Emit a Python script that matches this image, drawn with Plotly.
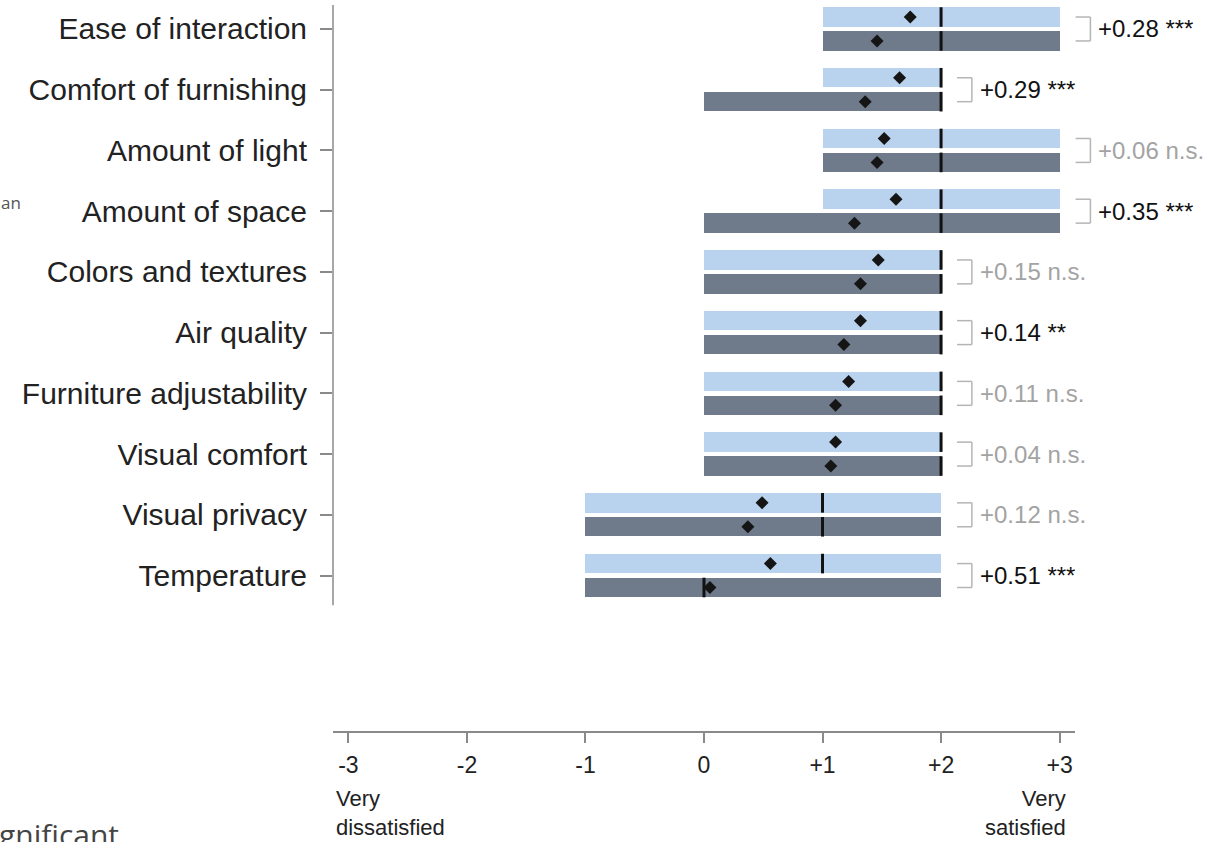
import plotly.graph_objects as go

# ---------------- data ----------------
categories = ["Ease of interaction", "Comfort of furnishing", "Amount of light",
              "Amount of space", "Colors and textures", "Air quality",
              "Furniture adjustability", "Visual comfort", "Visual privacy", "Temperature"]

light_lo = [1, 1, 1, 1, 0, 0, 0, 0, -1, -1]
light_hi = [3, 2, 3, 3, 2, 2, 2, 2, 2, 2]
dark_lo = [1, 0, 1, 0, 0, 0, 0, 0, -1, -1]
dark_hi = [3, 2, 3, 3, 2, 2, 2, 2, 2, 2]
light_median = [2, 2, 2, 2, 2, 2, 2, 2, 1, 1]
dark_median = [2, 2, 2, 2, 2, 2, 2, 2, 1, 0]
light_mean = [1.74, 1.65, 1.52, 1.62, 1.47, 1.32, 1.22, 1.11, 0.49, 0.56]
dark_mean = [1.46, 1.36, 1.46, 1.27, 1.32, 1.18, 1.11, 1.07, 0.37, 0.05]
diff_labels = ["+0.28", "+0.29", "+0.06", "+0.35", "+0.15", "+0.14", "+0.11", "+0.04", "+0.12", "+0.51"]
signif = ["***", "***", "n.s.", "***", "n.s.", "**", "n.s.", "n.s.", "n.s.", "***"]

x_ticks = [-3, -2, -1, 0, 1, 2, 3]
x_ticktext = ["-3", "-2", "-1", "0", "+1", "+2", "+3"]

# ---------------- style ----------------
FONT = "Liberation Sans, Arial, Helvetica, sans-serif"
LIGHT = "#b9d2ee"
DARK = "#6f7b8b"
GRAY_TXT = "#a3a3a3"
AXIS_GRAY = "#8a8a8a"
OFF = 0.197
BW = 0.32

W, H = 1217, 842
ML, MR, MT, MB = 333, 142, 5, 111
XR = [-3.13, 3.13]
YR = [11.56, -0.395]

rows = list(range(len(categories)))
y_light = [r - OFF for r in rows]
y_dark = [r + OFF for r in rows]


def data_to_paper_x(v):
    return (v - XR[0]) / (XR[1] - XR[0])


def px_x(p):
    return (p - ML) / (W - ML - MR)


def px_y(p):
    return (H - MB - p) / (H - MB - MT)


fig = go.Figure()

fig.add_trace(go.Bar(orientation="h", y=y_light, base=light_lo,
                     x=[h - l for h, l in zip(light_hi, light_lo)], width=BW,
                     marker=dict(color=LIGHT, line=dict(width=0)), hoverinfo="skip"))
fig.add_trace(go.Bar(orientation="h", y=y_dark, base=dark_lo,
                     x=[h - l for h, l in zip(dark_hi, dark_lo)], width=BW,
                     marker=dict(color=DARK, line=dict(width=0)), hoverinfo="skip"))

# medians
fig.add_trace(go.Scatter(x=light_median + dark_median, y=y_light + y_dark, mode="markers",
                         marker=dict(symbol="line-ns", size=14, color="#111",
                                     line=dict(color="#111", width=3)), hoverinfo="skip"))
# means
fig.add_trace(go.Scatter(x=light_mean + dark_mean, y=y_light + y_dark, mode="markers",
                         marker=dict(symbol="diamond", size=10, color="#151515",
                                     line=dict(width=0)), hoverinfo="skip"))

shapes = []
annotations = []
for r in rows:
    end = max(light_hi[r], dark_hi[r])
    bx0 = data_to_paper_x(end + 0.135)
    bx1 = data_to_paper_x(end + 0.26)
    for (xa, ya, xb, yb) in [(bx0, y_light[r], bx1, y_light[r]),
                             (bx1, y_light[r], bx1, y_dark[r]),
                             (bx0, y_dark[r], bx1, y_dark[r])]:
        shapes.append(dict(type="line", xref="paper", yref="y", x0=xa, y0=ya, x1=xb, y1=yb,
                           line=dict(color="#b5b5b5", width=1.5)))
    ns = signif[r] == "n.s."
    annotations.append(dict(x=data_to_paper_x(end + 0.31), y=r, xref="paper", yref="y",
                            xanchor="left", yanchor="middle",
                            text=f"{diff_labels[r]} {signif[r]}", showarrow=False,
                            font=dict(family=FONT, size=24, color=GRAY_TXT if ns else "#111")))

# y axis line (shorter than the plot area)
shapes.append(dict(type="line", xref="paper", yref="y", x0=0, x1=0, y0=YR[1], y1=9.49,
                   line=dict(color=AXIS_GRAY, width=1.5)))

annotations.append(dict(xref="paper", yref="paper", x=px_x(334), y=px_y(784), xanchor="left",
                        yanchor="top", align="left", showarrow=False, text="Very<br>dissatisfied",
                        font=dict(family=FONT, size=22, color="#222")))
annotations.append(dict(xref="paper", yref="paper", x=px_x(1068), y=px_y(784), xanchor="right",
                        yanchor="top", align="right", showarrow=False, text="Very<br>satisfied",
                        font=dict(family=FONT, size=22, color="#222")))
annotations.append(dict(xref="paper", yref="paper", x=px_x(-1), y=px_y(202), xanchor="left",
                        yanchor="middle", showarrow=False, text="an",
                        font=dict(family="Open Sans, sans-serif", size=17, color="#555")))
annotations.append(dict(xref="paper", yref="paper", x=px_x(-3), y=px_y(812), xanchor="left",
                        yanchor="top", showarrow=False, text="gnificant",
                        font=dict(family="Open Sans, sans-serif", size=30, color="#444")))

fig.update_layout(
    width=W, height=H,
    margin=dict(l=ML, r=MR, t=MT, b=MB, pad=0),
    paper_bgcolor="white", plot_bgcolor="white",
    showlegend=False, barmode="overlay", bargap=0,
    font=dict(family=FONT, color="#222"),
    shapes=shapes, annotations=annotations,
    xaxis=dict(range=XR, tickvals=x_ticks, ticktext=x_ticktext, showgrid=False, zeroline=False,
               showline=True, linecolor=AXIS_GRAY, linewidth=2, ticks="outside", ticklen=10,
               tickwidth=1.5, tickcolor=AXIS_GRAY, tickfont=dict(family=FONT, size=23, color="#222"),
               ticklabelstandoff=2, fixedrange=True),
    yaxis=dict(range=YR, tickvals=rows, ticktext=categories, showgrid=False, zeroline=False,
               showline=False, ticks="outside", ticklen=12, tickwidth=1.5, tickcolor=AXIS_GRAY,
               tickfont=dict(family=FONT, size=30, color="#222"), ticklabelstandoff=7,
               fixedrange=True),
)

fig.write_html("out.html", config={"displayModeBar": False},
               post_script="document.body.style.margin='0';document.body.style.overflow='hidden';")
